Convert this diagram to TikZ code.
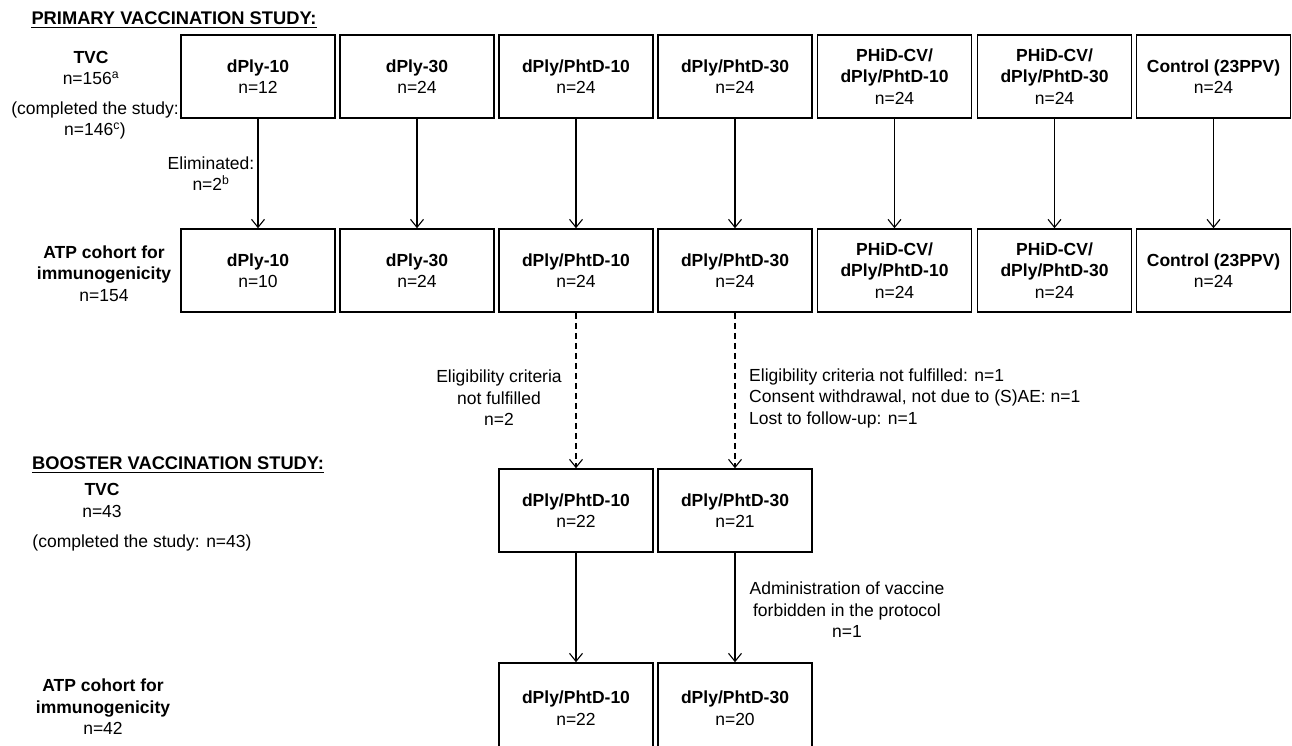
\documentclass[tikz,border=0pt]{standalone}
\usepackage{fontspec}
\setmainfont{Liberation Sans}
\usepackage{tikz}
\usetikzlibrary{arrows.meta, positioning}

\tikzset{
  armbox/.style={draw, line width=1.6pt, minimum width=154pt, minimum height=83pt, align=center, inner sep=2pt},
  flowarrow/.style={line width=1.1pt, -{Straight Barb[length=8pt,width=13pt]}},
  droparrow/.style={flowarrow, dash pattern=on 6pt off 4pt},
  sidelabel/.style={align=center, inner sep=0pt},
  studyhead/.style={anchor=base, inner sep=0pt, font=\fontsize{18.3pt}{22pt}\selectfont\bfseries}
}

\begin{document}
\begin{tikzpicture}[x=1pt, y=-1pt, font=\fontsize{17.5pt}{21.5pt}\selectfont]
    \useasboundingbox (0,0) rectangle (1292,746);

    \node[studyhead] (primhead) at (174,24.5) {PRIMARY VACCINATION STUDY:};
    \draw[line width=1.8pt] ([yshift=-3pt]primhead.base west) -- ([yshift=-3pt]primhead.base east);
    \node[sidelabel] (tvcprim) at (91,68) {\textbf{TVC}\\n=156\textsuperscript{a}};
    \node[sidelabel] (tvcprimdone) at (95,120.5) {(completed the study:\\n=146\textsuperscript{c})};
    \node[sidelabel] (elimlabel) at (211,173.5) {Eliminated:\\n=2\textsuperscript{b}};
    \node[sidelabel] (atpprim) at (104,273.5) {\textbf{ATP cohort for}\\\textbf{immunogenicity}\\n=154};

    \node[armbox] (prim1) at (258,76.5) {\textbf{dPly-10}\\n=12};
    \node[armbox] (prim2) at (417,76.5) {\textbf{dPly-30}\\n=24};
    \node[armbox] (prim3) at (576,76.5) {\textbf{dPly/PhtD-10}\\n=24};
    \node[armbox] (prim4) at (735,76.5) {\textbf{dPly/PhtD-30}\\n=24};
    \node[armbox] (prim5) at (894.5,76.5) {\textbf{PHiD-CV/}\\\textbf{dPly/PhtD-10}\\n=24};
    \node[armbox] (prim6) at (1054.5,76.5) {\textbf{PHiD-CV/}\\\textbf{dPly/PhtD-30}\\n=24};
    \node[armbox] (prim7) at (1213.5,76.5) {\textbf{Control (23PPV)}\\n=24};

    \node[armbox] (atp1) at (258,270.5) {\textbf{dPly-10}\\n=10};
    \node[armbox] (atp2) at (417,270.5) {\textbf{dPly-30}\\n=24};
    \node[armbox] (atp3) at (576,270.5) {\textbf{dPly/PhtD-10}\\n=24};
    \node[armbox] (atp4) at (735,270.5) {\textbf{dPly/PhtD-30}\\n=24};
    \node[armbox] (atp5) at (894.5,270.5) {\textbf{PHiD-CV/}\\\textbf{dPly/PhtD-10}\\n=24};
    \node[armbox] (atp6) at (1054.5,270.5) {\textbf{PHiD-CV/}\\\textbf{dPly/PhtD-30}\\n=24};
    \node[armbox] (atp7) at (1213.5,270.5) {\textbf{Control (23PPV)}\\n=24};

    \draw[flowarrow] (prim1) -- (atp1);
    \draw[flowarrow] (prim2) -- (atp2);
    \draw[flowarrow] (prim3) -- (atp3);
    \draw[flowarrow] (prim4) -- (atp4);
    \draw[flowarrow] (prim5) -- (atp5);
    \draw[flowarrow] (prim6) -- (atp6);
    \draw[flowarrow] (prim7) -- (atp7);

    \node[sidelabel] (eliglabel) at (499,398) {Eligibility criteria\\not fulfilled\\n=2};
    \node[sidelabel, anchor=west, align=left] (droplabel) at (749,398) {Eligibility criteria not fulfilled: n=1\\Consent withdrawal, not due to (S)AE: n=1\\Lost to follow-up: n=1};

    \node[studyhead] (boosthead) at (178,469.5) {BOOSTER VACCINATION STUDY:};
    \draw[line width=1.8pt] ([yshift=-3pt]boosthead.base west) -- ([yshift=-3pt]boosthead.base east);
    \node[sidelabel] (tvcboost) at (102,500.5) {\textbf{TVC}\\n=43};
    \node[sidelabel] (tvcboostdone) at (142,543) {(completed the study: n=43)};
    \node[sidelabel] (atpboost) at (103,707) {\textbf{ATP cohort for}\\\textbf{immunogenicity}\\n=42};

    \node[armbox] (boost1) at (576,510.5) {\textbf{dPly/PhtD-10}\\n=22};
    \node[armbox] (boost2) at (735,510.5) {\textbf{dPly/PhtD-30}\\n=21};
    \node[armbox, minimum height=90pt] (final1) at (576,708) {\textbf{dPly/PhtD-10}\\n=22};
    \node[armbox, minimum height=90pt] (final2) at (735,708) {\textbf{dPly/PhtD-30}\\n=20};

    \draw[droparrow] (atp3) -- (boost1);
    \draw[droparrow] (atp4) -- (boost2);
    \draw[flowarrow] (boost1) -- (final1);
    \draw[flowarrow] (boost2) -- (final2);

    \node[sidelabel] (adminlabel) at (847,610) {Administration of vaccine\\forbidden in the protocol\\n=1};
\end{tikzpicture}
\end{document}
